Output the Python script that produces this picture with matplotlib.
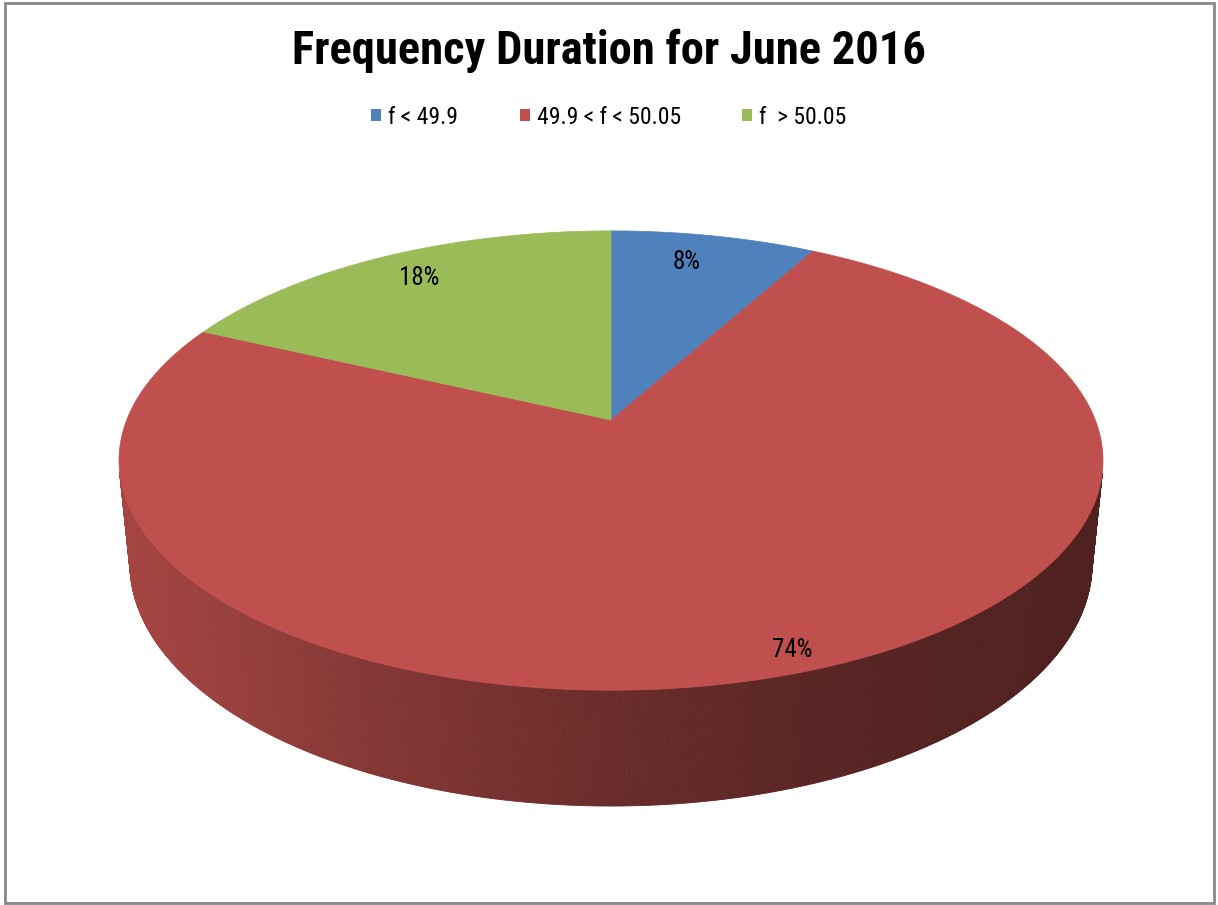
#
# 3D style pie chart: frequency duration for June 2016
#
import numpy as np
import matplotlib
matplotlib.use('Agg')
import matplotlib.pyplot as plt
from matplotlib import font_manager as fm
from matplotlib.patches import Polygon, Rectangle
from matplotlib.colors import to_rgb

#
# narrow font if there is one, Liberation Sans otherwise
#
have = {f.name for f in fm.fontManager.ttflist}
narrow = ['Arial Narrow', 'Liberation Sans Narrow', 'Roboto Condensed',
          'Archivo Narrow', 'PT Sans Narrow', 'Liberation Sans']
font = next(n for n in narrow + ['DejaVu Sans'] if n in have)
plt.rcParams['font.family'] = [font, 'DejaVu Sans']

#
# data
#
title = 'Frequency Duration for June 2016'
categories = ['f < 49.9', '49.9 < f < 50.05', 'f  > 50.05']
values = [8, 74, 18]
colors = ['#4F81BD', '#C0504D', '#9BBB59']

#
# view of the 3D disc (camera tilt, distance, focal length, thickness)
#
W, H = 1218, 905
cx, cy = 611, 420
phi = np.radians(27.35)
L = 5.03
F = 2436.0
thick = 0.2415


def proj(X, Y, Z):
    depth = L + Y * np.cos(phi) - Z * np.sin(phi)
    up = Y * np.sin(phi) + Z * np.cos(phi)
    return cx + F * X / depth, cy - F * up / depth


def shade(x):
    # darkening of the side wall from left to right
    return np.interp(x, [130, 350, 611, 850, 1092], [0.86, 0.70, 0.55, 0.45, 0.41])


fig = plt.figure(figsize=(W / 100, H / 100), dpi=100)
ax = fig.add_axes([0, 0, 1, 1])
ax.set_xlim(0, W)
ax.set_ylim(H, 0)
ax.axis('off')

fracs = np.array(values, dtype=float) / sum(values)
edges = np.concatenate([[0], np.cumsum(fracs)])   # clockwise from 12 o'clock


def slice_of(theta):
    a = ((90 - np.degrees(theta)) % 360) / 360
    return min(np.searchsorted(edges, a, side='right') - 1, len(values) - 1)


#
# side wall (only the part that faces the camera)
#
ths = np.linspace(np.pi, 2 * np.pi, 721)
for t0, t1 in zip(ths[:-1], ths[1:]):
    tm = (t0 + t1) / 2
    if 1 + L * np.cos(phi) * np.sin(tm) >= 0:
        continue
    xa, ya = proj(np.cos(t0), np.sin(t0), 0)
    xb, yb = proj(np.cos(t1), np.sin(t1), 0)
    xc, yc = proj(np.cos(t1), np.sin(t1), -thick)
    xd, yd = proj(np.cos(t0), np.sin(t0), -thick)
    k = shade((xa + xb) / 2)
    c = tuple(np.array(to_rgb(colors[slice_of(tm)])) * k)
    ax.add_patch(Polygon([[xa, ya], [xb, yb], [xc, yc], [xd, yd]],
                         closed=True, facecolor=c, edgecolor=c, lw=0.6))

#
# top face
#
for i in range(len(values)):
    a0 = np.pi / 2 - 2 * np.pi * edges[i]
    a1 = np.pi / 2 - 2 * np.pi * edges[i + 1]
    th = np.linspace(a0, a1, 200)
    px, py = proj(np.cos(th), np.sin(th), 0)
    ox, oy = proj(0, 0, 0)
    pts = np.column_stack([np.r_[ox, px], np.r_[oy, py]])
    ax.add_patch(Polygon(pts, closed=True, facecolor=colors[i],
                         edgecolor=colors[i], lw=0.5))

#
# percentage labels
#
label_r = 0.85
nudge = [(-14, 2), (33, 20), (4, 0)]
for i in range(len(values)):
    am = np.pi / 2 - 2 * np.pi * (edges[i] + edges[i + 1]) / 2
    lx, ly = proj(label_r * np.cos(am), label_r * np.sin(am), 0)
    ax.text(lx + nudge[i][0], ly + nudge[i][1], f'{values[i]}%',
            fontsize=18, ha='center', va='center', color='black')

#
# title, legend, frame
#
fig.text(0.5, 1 - 51 / H, title, fontsize=33.5, fontweight='bold',
         ha='center', va='center')

handles = [Rectangle((0, 0), 1, 1, facecolor=c, edgecolor='none') for c in colors]
ax.legend(handles, categories, loc='center', bbox_to_anchor=(0.5, 1 - 117 / H),
          bbox_transform=fig.transFigure, ncol=3, frameon=False, fontsize=17,
          handlelength=0.42, handleheight=0.42, handletextpad=0.3,
          columnspacing=2.6)

fig.add_artist(Rectangle((5 / W, 2 / H), (W - 9) / W, (H - 5) / H,
                         transform=fig.transFigure, fill=False,
                         edgecolor='#898989', lw=2))

fig.savefig('out.png', dpi=100)
